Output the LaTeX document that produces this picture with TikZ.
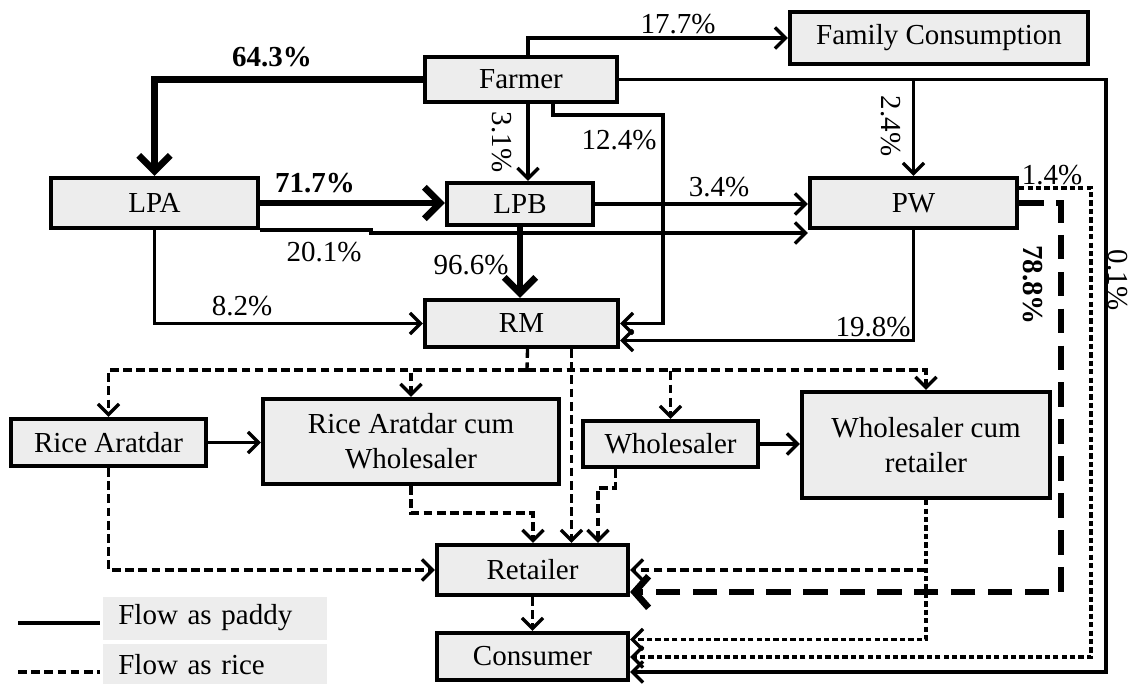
\documentclass[tikz,border=0pt]{standalone}
\usepackage{fontspec}
\setmainfont{Liberation Serif}
\usepackage{tikz}
\usetikzlibrary{arrows.meta,calc}

\begin{document}
\begin{tikzpicture}[x=0.02cm, y=-0.02cm,
    font=\fontsize{16.5}{20}\selectfont,
    >={Straight Barb[length=6pt,width=12pt]},
    box/.style={draw, line width=2.4pt, fill=black!7, inner sep=0pt, align=center},
    legbox/.style={fill=black!7, anchor=west, inner xsep=0.3cm, minimum width=4.48cm, minimum height=0.86cm, text width=3.88cm, align=left},
    paddy/.style={line width=1.9pt, ->},
    bigpaddy/.style={line width=3.8pt, -{Straight Barb[length=9pt,width=18pt]}},
    rice/.style={line width=1.9pt, dash pattern=on 5pt off 2.5pt, ->},
    ricedot/.style={line width=1.9pt, dash pattern=on 3pt off 1.8pt, ->},
    bigrice/.style={line width=3.8pt, dash pattern=on 14pt off 7pt, -{Straight Barb[length=8pt,width=18pt]}},
    pct/.style={inner sep=1pt}]

  \useasboundingbox (0,0) rectangle (1131,683);

  % boxes
  \node[box, minimum width=3.84cm, minimum height=0.9cm] (farmer) at (521,79.5) {Farmer};
  \node[box, minimum width=5.96cm, minimum height=1.04cm] (family) at (939,38) {Family Consumption};
  \node[box, minimum width=4.14cm, minimum height=1cm] (lpa) at (154.5,203) {LPA};
  \node[box, minimum width=2.92cm, minimum height=0.84cm] (lpb) at (520,204) {LPB};
  \node[box, minimum width=4.14cm, minimum height=1cm] (pw) at (913.5,203) {PW};
  \node[box, minimum width=3.86cm, minimum height=0.94cm] (rm) at (521.5,323.5) {RM};
  \node[box, minimum width=3.9cm, minimum height=0.94cm] (aratdar) at (108.5,442.5) {Rice Aratdar};
  \node[box, minimum width=5.92cm, minimum height=1.7cm] (racw) at (411,441.5) {Rice Aratdar cum\\Wholesaler};
  \node[box, minimum width=3.5cm, minimum height=0.92cm] (wholesaler) at (670.5,444) {Wholesaler};
  \node[box, minimum width=4.96cm, minimum height=2.12cm] (wcr) at (926,445) {Wholesaler cum\\retailer};
  \node[box, minimum width=3.82cm, minimum height=1cm] (retailer) at (532.5,570) {Retailer};
  \node[box, minimum width=3.82cm, minimum height=0.94cm] (consumer) at (532.5,656.5) {Consumer};

  % bends
  \coordinate (bend12) at (663,115);
  \coordinate (bend01) at (1106,672);
  \coordinate (bend20) at (371,233);
  \coordinate (bend78) at (1061,592);
  \coordinate (bend14) at (1091,657);
  \coordinate (split) at (527,370);
  \coordinate (bendra) at (533,513);
  \coordinate (bendws) at (598,488);

  % flow as paddy
  \draw[bigpaddy] (farmer.west) -| (lpa.north);
  \draw[paddy] ($(farmer.north)+(7,0)$) |- (family.west);
  \draw[paddy] ($(farmer.south)+(7,0)$) -- ($(lpb.north)+(8,0)$);
  \draw[paddy] ($(farmer.south)+(32,0)$) |- (bend12) |- (rm.east);
  \draw[paddy] (farmer.east) -| (pw.north);
  \draw[paddy] (farmer.east) -| (bend01) -- (bend01 -| consumer.east);
  \draw[bigpaddy] (lpa.east) -- (lpa.east -| lpb.west);
  \draw[paddy] (lpa.south east) -| (bend20) -- (bend20 -| pw.west);
  \draw[paddy] (lpb.east) -- (lpb.east -| pw.west);
  \draw[bigpaddy] (lpb.south) -- (lpb.south |- rm.north);
  \draw[paddy] (lpa.south) |- (rm.west);
  \draw[paddy] (pw.south) |- ($(rm.east)+(0,17)$);
  \draw[paddy] (aratdar.east) -- (aratdar.east -| racw.west);
  \draw[paddy] (wholesaler.east) -- (wholesaler.east -| wcr.west);

  % flow as rice
  \draw[bigrice] (pw.east) -| (bend78) -- (bend78 -| retailer.east);
  \draw[ricedot] ($(pw.east)+(0,-15)$) -| (bend14) -- (bend14 -| consumer.east);
  \draw[rice,-] ($(rm.south)+(6,0)$) -- (split);
  \draw[rice] (split) -| (aratdar.north);
  \draw[rice] (split) -| (racw.north);
  \draw[rice] (split) -| (wholesaler.north);
  \draw[rice] (split) -| (wcr.north);
  \draw[rice] ($(rm.south)+(50,0)$) -- ($(retailer.north)+(39,0)$);
  \draw[rice] (aratdar.south) |- (retailer.west);
  \draw[rice] (racw.south) |- (bendra) -- (bendra |- retailer.north);
  \draw[rice] ($(wholesaler.south)+(-55,0)$) |- (bendws) -- (bendws |- retailer.north);
  \draw[ricedot] (wcr.south) |- ($(consumer.east)+(0,-17)$);
  \draw[rice] (wcr.south |- retailer.east) -- (retailer.east);
  \draw[rice] (retailer.south) -- (consumer.north);

  % shares
  \node[pct] (l643) at (272,57) {\textbf{64.3\%}};
  \node[pct] (l177) at (678,24) {17.7\%};
  \node[pct, rotate=-90] (l31) at (502,142) {3.1\%};
  \node[pct] (l124) at (619,140) {12.4\%};
  \node[pct, rotate=-90] (l24) at (891,126) {2.4\%};
  \node[pct] (l717) at (315,183) {\textbf{71.7\%}};
  \node[pct] (l34) at (719,187) {3.4\%};
  \node[pct] (l14) at (1052,175) {1.4\%};
  \node[pct] (l201) at (324,252) {20.1\%};
  \node[pct] (l966) at (471,265) {96.6\%};
  \node[pct, rotate=-90] (l788) at (1033,285) {\textbf{78.8\%}};
  \node[pct, rotate=-90] (l01) at (1118,280) {0.1\%};
  \node[pct] (l82) at (242,306) {8.2\%};
  \node[pct] (l198) at (873,327) {19.8\%};

  % legend
  \node[legbox] (legpaddy) at (103,618) {Flow as paddy};
  \node[legbox] (legrice) at (103,665) {Flow as rice};
  \draw[line width=1.9pt] ($(legpaddy.west)+(-85,5)$) -- ($(legpaddy.west)+(-3,5)$);
  \draw[line width=1.9pt, dash pattern=on 5pt off 2.5pt] ($(legrice.west)+(-85,7)$) -- ($(legrice.west)+(-3,7)$);
\end{tikzpicture}
\end{document}
